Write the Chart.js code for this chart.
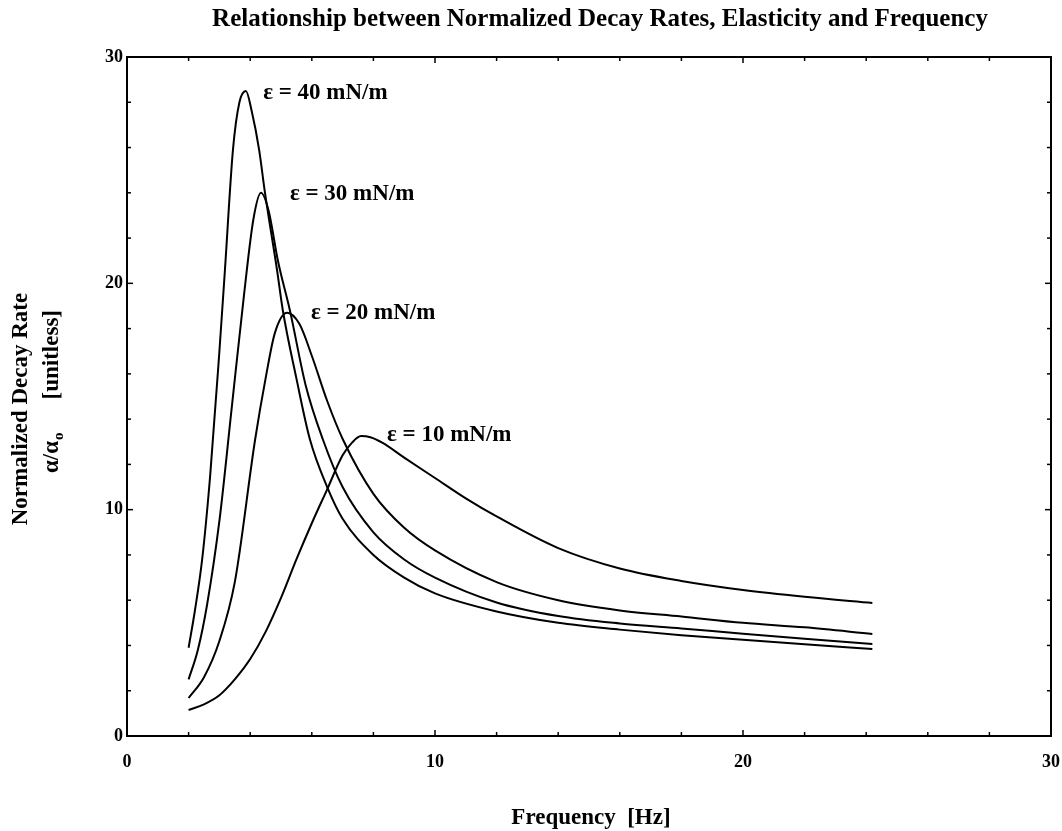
<!DOCTYPE html>
<html><head><meta charset="utf-8">
<script src="https://cdn.jsdelivr.net/npm/chart.js@4.4.1/dist/chart.umd.min.js"></script>
<style>html,body{margin:0;padding:0;background:#fff;}canvas{display:block;}</style>
</head><body>
<canvas id="c" width="1062" height="831"></canvas>
<script>
// ---- data ----
const freq40 = [2.0,2.2,2.44,2.7,3.0,3.18,3.44,3.65,3.86,4.05,4.29,4.48,4.87,5.06,5.5,5.94,6.5,7.0,8.0,9.0,10,12,14,16,18,20,22,24.2];
const rate40 = [3.9,5.5,7.8,11.5,17.0,20.6,25.9,28.0,28.5,27.6,25.9,24.0,20.6,18.8,15.8,13.1,11.0,9.6,8.0,7.0,6.3,5.5,5.0,4.7,4.45,4.25,4.05,3.84];
const freq30 = [2.0,2.3,2.6,3.0,3.4,3.8,4.1,4.35,4.6,4.9,5.29,5.8,6.36,7.0,8.0,9.0,10,12,14,16,18,20,22,24.2];
const rate30 = [2.5,3.8,5.8,9.5,14.5,19.5,22.8,24.0,23.2,21.0,18.8,15.5,13.1,11.0,9.0,7.8,7.0,5.9,5.3,4.97,4.75,4.52,4.3,4.07];
const freq20 = [2.0,2.5,3.0,3.5,4.16,4.5,4.8,5.2,5.6,6.0,6.5,7.01,8.0,9.0,10,12,14,16,18,20,22,24.2];
const rate20 = [1.68,2.6,4.2,6.8,13.1,15.8,17.8,18.7,18.2,16.8,14.8,13.1,10.7,9.2,8.2,6.8,6.0,5.55,5.28,5.0,4.8,4.51];
const freq10 = [2.0,2.5,3.0,3.5,4.0,4.5,5.0,5.5,6.0,6.5,7.0,7.3,7.6,7.9,8.3,9.0,10,11,12,14,16,18,20,22,24.2];
const rate10 = [1.15,1.4,1.8,2.5,3.4,4.6,6.1,7.8,9.4,10.9,12.4,12.95,13.25,13.2,12.95,12.3,11.4,10.5,9.7,8.3,7.4,6.85,6.45,6.15,5.88];
const curveLabels = ['\u03b5 = 40 mN/m','\u03b5 = 30 mN/m','\u03b5 = 20 mN/m','\u03b5 = 10 mN/m'];
const labelX = [4.42,5.29,5.97,8.44];
const labelY = [28.4,23.95,18.7,13.3];
const xTicks = [0,10,20,30];
const yTicks = [0,10,20,30];
const titleText = 'Relationship between Normalized Decay Rates, Elasticity and Frequency';
const xTitle = 'Frequency  [Hz]';
const yTitle1 = 'Normalized Decay Rate';

const FONT = '"Liberation Serif","Times New Roman",serif';
const pts = (xs, ys) => xs.map((v,i)=>({x:v,y:ys[i]}));
const mk = (xs,ys) => ({data:pts(xs,ys),showLine:true,borderColor:'#000',borderWidth:2,pointRadius:0,fill:false,cubicInterpolationMode:'monotone'});

const decor = {
  id:'decor',
  afterDraw(chart){
    const {ctx, chartArea:a, scales:{x,y}} = chart;
    ctx.save();
    ctx.strokeStyle='#000'; ctx.lineWidth=2;
    ctx.strokeRect(a.left, a.top, a.right-a.left, a.bottom-a.top);
    ctx.lineWidth=1.5;
    const ln=(x1,y1,x2,y2)=>{ctx.beginPath();ctx.moveTo(x1,y1);ctx.lineTo(x2,y2);ctx.stroke();};
    for(let v=0; v<=30; v+=2){
      const L = v%10===0?6:4;
      const px=x.getPixelForValue(v);
      ln(px,a.bottom,px,a.bottom-L); ln(px,a.top,px,a.top+L);
      const py=y.getPixelForValue(v);
      ln(a.left,py,a.left+L,py); ln(a.right,py,a.right-L,py);
    }
    ctx.fillStyle='#000';
    // curve labels
    ctx.font='bold 23px '+FONT; ctx.textAlign='left'; ctx.textBaseline='middle';
    curveLabels.forEach((t,i)=>ctx.fillText(t, x.getPixelForValue(labelX[i]), y.getPixelForValue(labelY[i])));
    // title
    ctx.font='bold 25px '+FONT; ctx.textAlign='center'; ctx.textBaseline='middle';
    ctx.fillText(titleText, 600, 20);
    // x title
    ctx.font='bold 23px '+FONT;
    ctx.fillText(xTitle, 591, 818);
    // y title
    ctx.save(); ctx.translate(21, 409); ctx.rotate(-Math.PI/2);
    ctx.fillText(yTitle1, 0, 0); ctx.restore();
    ctx.save(); ctx.translate(52, 391); ctx.rotate(-Math.PI/2);
    ctx.textAlign='left'; ctx.font='bold 23px '+FONT;
    ctx.fillText('\u03b1/\u03b1', -82, 0);
    const w = ctx.measureText('\u03b1/\u03b1').width;
    ctx.font='bold 15px '+FONT; ctx.fillText('o', -82+w+1, 7);
    ctx.font='bold 23px '+FONT; ctx.textAlign='right';
    ctx.fillText('[unitless]', 81, 0);
    ctx.restore();
    ctx.restore();
  }
};

new Chart(document.getElementById('c'), {
  type:'scatter',
  data:{datasets:[mk(freq40,rate40),mk(freq30,rate30),mk(freq20,rate20),mk(freq10,rate10)]},
  options:{
    responsive:false, animation:false, devicePixelRatio:1,
    layout:{padding:{left:0,right:11,top:57,bottom:0}},
    plugins:{legend:{display:false},tooltip:{enabled:false},title:{display:false}},
    scales:{
      x:{type:'linear',min:0,max:30,
        afterBuildTicks:s=>{s.ticks=xTicks.map(v=>({value:v}));},
        afterFit:s=>{s.height=95;s.paddingLeft=0;s.paddingRight=0;},
        grid:{display:false,drawTicks:false},border:{display:false},
        ticks:{color:'#000',font:{family:FONT,size:18,weight:'bold'},padding:16,maxRotation:0}},
      y:{type:'linear',min:0,max:30,
        afterBuildTicks:s=>{s.ticks=yTicks.map(v=>({value:v}));},
        afterFit:s=>{s.width=127;s.paddingTop=0;s.paddingBottom=0;},
        grid:{display:false,drawTicks:false},border:{display:false},
        ticks:{color:'#000',font:{family:FONT,size:18,weight:'bold'},padding:4}}
    }
  },
  plugins:[decor]
});
</script>
</body></html>
